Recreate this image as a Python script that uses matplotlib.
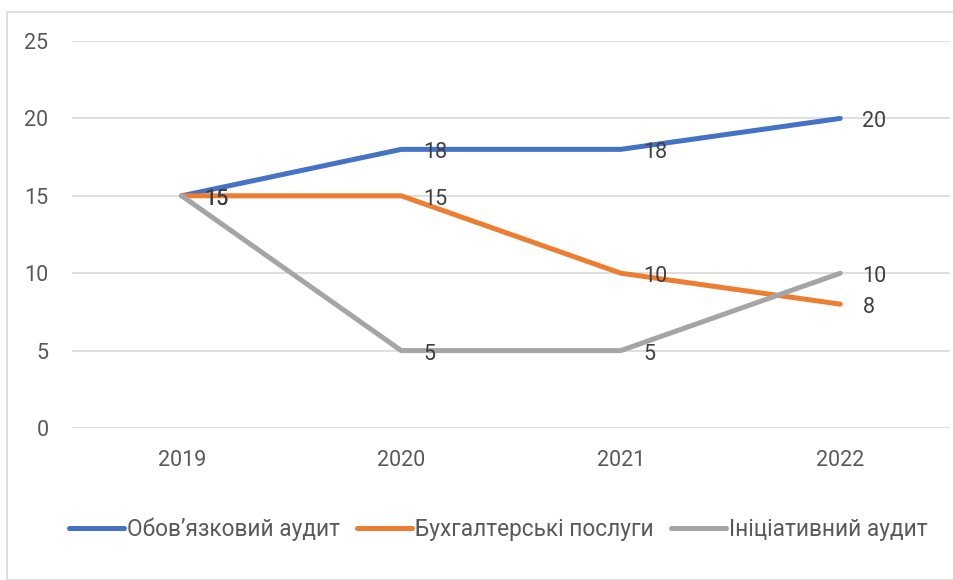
import matplotlib
matplotlib.use("Agg")
import matplotlib.pyplot as plt
from matplotlib.patches import Rectangle

plt.rcParams['font.family'] = ['Roboto', 'DejaVu Sans']

years = ["2019", "2020", "2021", "2022"]
mandatory = [15, 18, 18, 20]
accounting = [15, 15, 10, 8]
initiative = [15, 5, 5, 10]
series_names = ["Обов’язковий аудит", "Бухгалтерські послуги", "Ініціативний аудит"]
colors = ["#4472C4", "#ED7D31", "#A5A5A5"]
yticks = [0, 5, 10, 15, 20, 25]

W, H = 954, 580
fig = plt.figure(figsize=(W / 100, H / 100), dpi=100)
fig.patches.append(Rectangle((7 / W, 0), 1.0, 1 - 12 / H, transform=fig.transFigure,
                             fill=False, edgecolor="#D9D9D9", linewidth=1.2))

ax = fig.add_axes([72 / W, (H - 428) / H, 878 / W, (428 - 41) / H])
x = list(range(len(years)))
for vals, name, c in zip([mandatory, accounting, initiative], series_names, colors):
    ax.plot(x, vals, color=c, linewidth=3.6, solid_capstyle="round",
            solid_joinstyle="round", label=name, zorder=3)
for vals in [mandatory, accounting, initiative]:
    for xi, v in zip(x, vals):
        ax.annotate(str(v), (xi, v), xytext=(16, -2.5), textcoords="offset points",
                    ha="left", va="center", fontsize=15.5, color="#404040", zorder=4)

ax.set_xlim(-0.5, 3.5)
ax.set_ylim(0, 25)
ax.set_yticks(yticks)
ax.set_xticks(x)
ax.set_xticklabels(years)
ax.grid(axis="y", color="#D9D9D9", linewidth=1.2)
ax.set_axisbelow(True)
for s in ax.spines.values():
    s.set_visible(False)
ax.tick_params(axis="both", length=0, labelsize=15.5, labelcolor="#595959")
ax.tick_params(axis="y", pad=17)
ax.tick_params(axis="x", pad=16)

fig.legend(loc="center", bbox_to_anchor=(498 / W, 1 - 529 / H), ncol=3, frameon=False,
           fontsize=16.3, labelcolor="#595959", handlelength=2.45, handletextpad=0.12,
           columnspacing=0.75)

fig.savefig("out.png", dpi=100)
